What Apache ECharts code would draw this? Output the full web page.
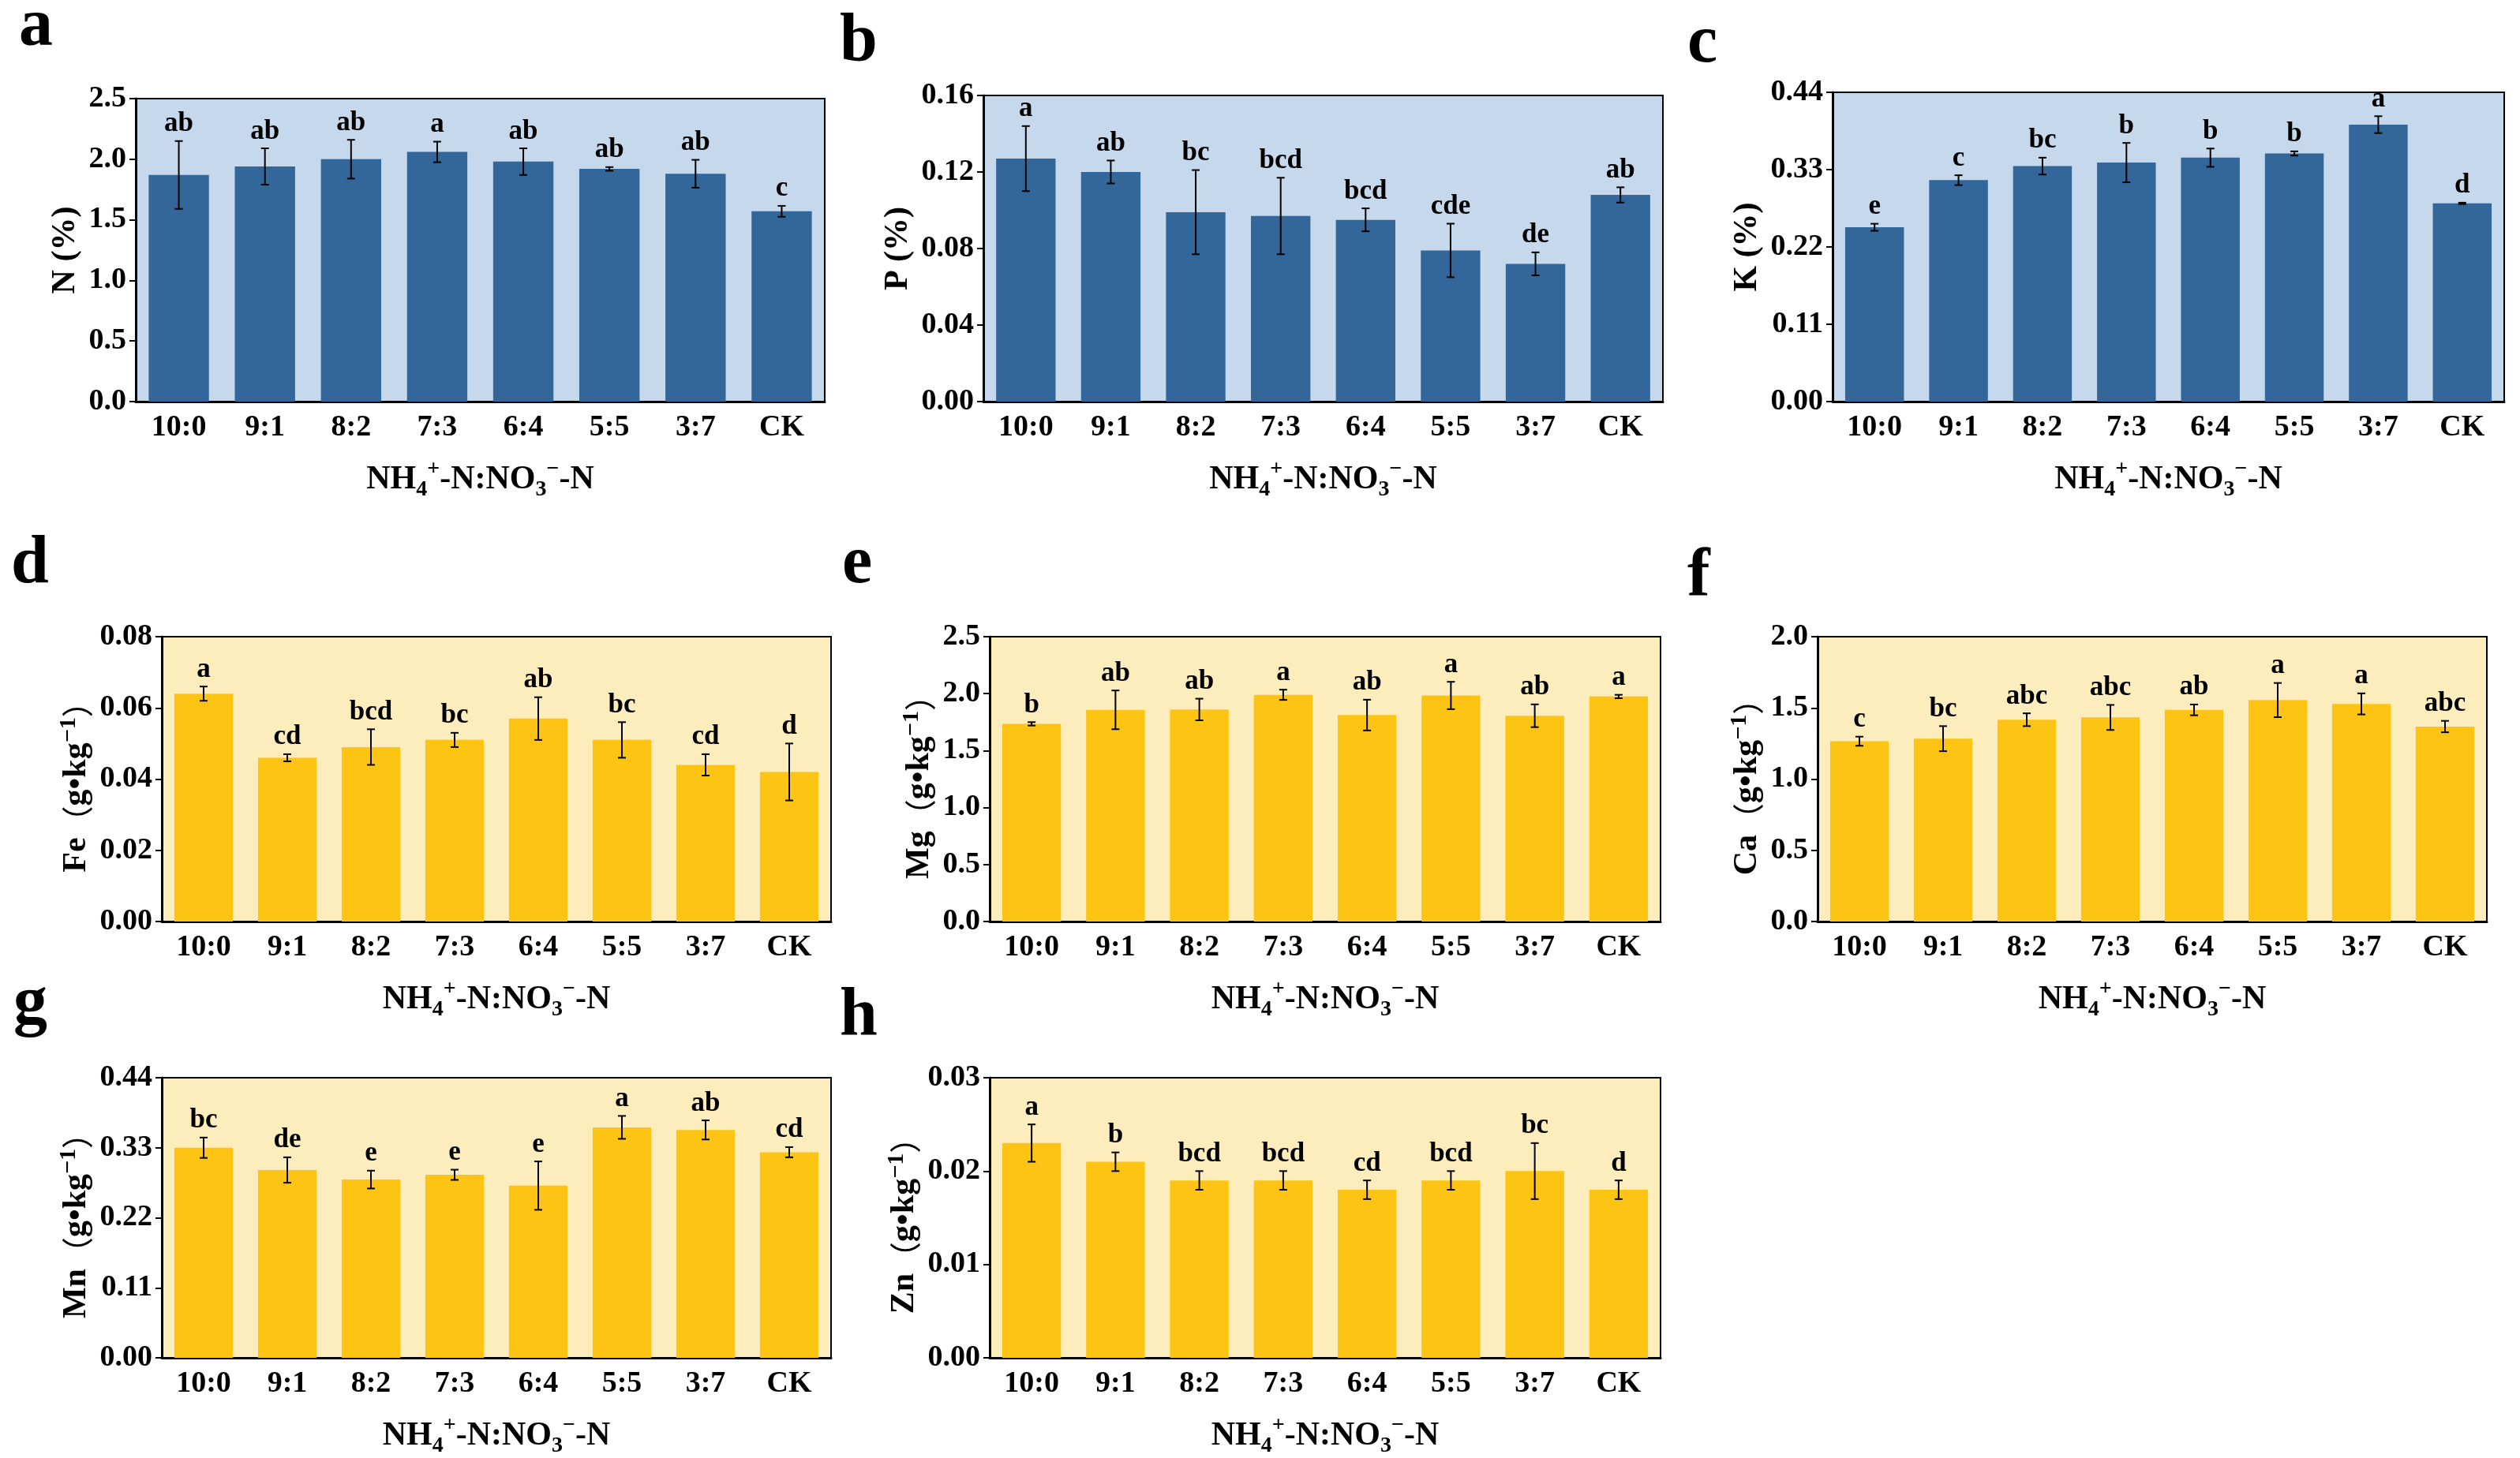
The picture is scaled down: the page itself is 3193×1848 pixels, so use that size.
<!DOCTYPE html>
<html>
<head>
<meta charset="utf-8">
<script src="https://cdn.jsdelivr.net/npm/echarts@6/dist/echarts.min.js"></script>
<style>
html,body{margin:0;padding:0;background:#fff;}
#chart{width:3193px;height:1848px;}
</style>
</head>
<body>
<div id="chart"></div>
<script>
const categories = ['10:0','9:1','8:2','7:3','6:4','5:5','3:7','CK'];

const nMean = [1.87,1.94,2.00,2.06,1.98,1.92,1.88,1.57];
const nErr = [0.28,0.15,0.16,0.085,0.11,0.015,0.115,0.045];
const nLetters = ['ab','ab','ab','a','ab','ab','ab','c'];

const pMean = [0.127,0.120,0.099,0.097,0.095,0.079,0.072,0.108];
const pErr = [0.017,0.006,0.022,0.020,0.006,0.014,0.006,0.004];
const pLetters = ['a','ab','bc','bcd','bcd','cde','de','ab'];

const kMean = [0.248,0.315,0.335,0.340,0.347,0.353,0.394,0.282];
const kErr = [0.005,0.007,0.012,0.028,0.013,0.003,0.012,0.001];
const kLetters = ['e','c','bc','b','b','b','a','d'];

const feMean = [0.064,0.046,0.049,0.051,0.057,0.051,0.044,0.042];
const feErr = [0.002,0.001,0.005,0.002,0.006,0.005,0.003,0.008];
const feLetters = ['a','cd','bcd','bc','ab','bc','cd','d'];

const mgMean = [1.735,1.858,1.861,1.990,1.812,1.984,1.806,1.975];
const mgErr = [0.015,0.17,0.095,0.045,0.135,0.12,0.10,0.015];
const mgLetters = ['b','ab','ab','a','ab','a','ab','a'];

const caMean = [1.266,1.284,1.417,1.433,1.486,1.555,1.528,1.369];
const caErr = [0.032,0.088,0.045,0.088,0.038,0.12,0.074,0.04];
const caLetters = ['c','bc','abc','abc','ab','a','a','abc'];

const mnMean = [0.330,0.295,0.280,0.2875,0.2705,0.362,0.358,0.323];
const mnErr = [0.016,0.020,0.014,0.008,0.038,0.018,0.015,0.008];
const mnLetters = ['bc','de','e','e','e','a','ab','cd'];

const znMean = [0.023,0.021,0.019,0.019,0.018,0.019,0.020,0.018];
const znErr = [0.002,0.001,0.001,0.001,0.001,0.001,0.003,0.001];
const znLetters = ['a','b','bcd','bcd','cd','bcd','bc','d'];

const xTitle = 'NH{sub|4}{sup|+}-N:NO{sub|3}{sup|−}-N';
const unitTitle = el => el + '{par|（}g•kg{sup|−1}{par|）}';

const SERIF = '"Liberation Serif","Times New Roman",serif';
const CJK = '"Noto Sans CJK SC","Noto Sans CJK JP",sans-serif';
const BLUE = '#336699', BLUE_BG = '#c5d8ec';
const YEL = '#fdc413', YEL_BG = '#feedbc';

const panels = [
  {letter:'a', lx:24, lb:58, mean:nMean, err:nErr, letters:nLetters, yName:'N (%)', min:0, max:2.5, interval:0.5, dec:1, color:BLUE, bg:BLUE_BG, left:172, right:1045, top:125, bottom:509, yGap:63},
  {letter:'b', lx:1064, lb:77, mean:pMean, err:pErr, letters:pLetters, yName:'P (%)', min:0, max:0.16, interval:0.04, dec:2, color:BLUE, bg:BLUE_BG, left:1246, right:2107, top:121, bottom:509, yGap:81},
  {letter:'c', lx:2138, lb:79, mean:kMean, err:kErr, letters:kLetters, yName:'K (%)', min:0, max:0.44, interval:0.11, dec:2, color:BLUE, bg:BLUE_BG, left:2322, right:3173, top:117, bottom:509, yGap:83},
  {letter:'d', lx:14, lb:739, mean:feMean, err:feErr, letters:feLetters, yName:unitTitle('Fe'), min:0, max:0.08, interval:0.02, dec:2, color:YEL, bg:YEL_BG, left:205, right:1053, top:807, bottom:1168, yGap:74},
  {letter:'e', lx:1067, lb:739, mean:mgMean, err:mgErr, letters:mgLetters, yName:unitTitle('Mg'), min:0, max:2.5, interval:0.5, dec:1, color:YEL, bg:YEL_BG, left:1254, right:2104, top:807, bottom:1168, yGap:55},
  {letter:'f', lx:2138, lb:756, mean:caMean, err:caErr, letters:caLetters, yName:unitTitle('Ca'), min:0, max:2.0, interval:0.5, dec:1, color:YEL, bg:YEL_BG, left:2303, right:3151, top:807, bottom:1168, yGap:57},
  {letter:'g', lx:17, lb:1297, mean:mnMean, err:mnErr, letters:mnLetters, yName:unitTitle('Mn'), min:0, max:0.44, interval:0.11, dec:2, color:YEL, bg:YEL_BG, left:205, right:1053, top:1366, bottom:1728, yGap:72},
  {letter:'h', lx:1064, lb:1312, mean:znMean, err:znErr, letters:znLetters, yName:unitTitle('Zn'), min:0, max:0.03, interval:0.01, dec:2, color:YEL, bg:YEL_BG, left:1254, right:2104, top:1366, bottom:1728, yGap:76}
];

const W = 3193, H = 1848;
const grid = [], xAxis = [], yAxis = [], series = [], graphic = [];

panels.forEach((p, i) => {
  grid.push({
    left: p.left, top: p.top, width: p.right - p.left, height: p.bottom - p.top,
    show: true, backgroundColor: p.bg, borderColor: '#000', borderWidth: 2, containLabel: false
  });
  xAxis.push({
    type: 'category', gridIndex: i, data: categories,
    axisLine: {show: true, lineStyle: {color: '#000', width: 3}},
    axisTick: {show: false},
    axisLabel: {color: '#000', fontFamily: SERIF, fontWeight: 'bold', fontSize: 38, margin: 14},
    name: xTitle, nameLocation: 'middle', nameGap: 72,
    nameTextStyle: {
      color: '#000', fontFamily: SERIF, fontWeight: 'bold', fontSize: 42, lineHeight: 54,
      rich: {
        sub: {fontFamily: SERIF, fontWeight: 'bold', fontSize: 28, verticalAlign: 'bottom', lineHeight: 54, color: '#000'},
        sup: {fontFamily: SERIF, fontWeight: 'bold', fontSize: 28, verticalAlign: 'top', lineHeight: 54, color: '#000'}
      }
    }
  });
  yAxis.push({
    type: 'value', gridIndex: i, min: p.min, max: p.max, interval: p.interval,
    splitLine: {show: false},
    axisLine: {show: true, lineStyle: {color: '#000', width: 3}},
    axisTick: {show: true, inside: false, length: 8, lineStyle: {color: '#000', width: 2}},
    axisLabel: {
      color: '#000', fontFamily: SERIF, fontWeight: 'bold', fontSize: 38, margin: 12,
      formatter: v => Number(v).toFixed(p.dec)
    },
    name: p.yName, nameLocation: 'middle', nameRotate: 90, nameGap: p.yGap,
    nameTextStyle: {
      color: '#000', fontFamily: SERIF, fontWeight: 'bold', fontSize: 42, lineHeight: 50,
      rich: {
        sup: {fontFamily: SERIF, fontWeight: 'bold', fontSize: 30, verticalAlign: 'top', lineHeight: 50, color: '#000'},
        par: {fontFamily: CJK, fontWeight: 'normal', fontSize: 40, lineHeight: 50, color: '#000'}
      }
    }
  });
  series.push({
    type: 'bar', xAxisIndex: i, yAxisIndex: i, data: p.mean, barWidth: '70%',
    itemStyle: {color: p.color}, silent: true, z: 2
  });
  const letters = p.letters;
  series.push({
    type: 'custom', xAxisIndex: i, yAxisIndex: i, z: 5, silent: true,
    data: p.mean.map((m, j) => [j, m, p.err[j]]),
    encode: {x: 0, y: 1},
    renderItem: (params, api) => {
      const x = api.value(0), m = api.value(1), e = api.value(2);
      const t = api.coord([x, m + e]);
      const b = api.coord([x, m - e]);
      const cw = 5;
      const ls = {stroke: '#000', lineWidth: 2};
      return {
        type: 'group',
        children: [
          {type: 'line', shape: {x1: t[0], y1: t[1], x2: b[0], y2: b[1]}, style: ls},
          {type: 'line', shape: {x1: t[0] - cw, y1: t[1], x2: t[0] + cw, y2: t[1]}, style: ls},
          {type: 'line', shape: {x1: b[0] - cw, y1: b[1], x2: b[0] + cw, y2: b[1]}, style: ls},
          {type: 'text', style: {
            x: t[0], y: t[1] - 4, text: letters[params.dataIndex],
            textAlign: 'center', textVerticalAlign: 'bottom',
            font: 'bold 35px ' + SERIF, fill: '#000'
          }}
        ]
      };
    }
  });
  graphic.push({
    type: 'text', left: p.lx, top: p.lb - 66,
    style: {text: p.letter, font: 'bold 86px ' + SERIF, fill: '#000'}
  });
});

const chart = echarts.init(document.getElementById('chart'), null, {width: W, height: H, renderer: 'canvas'});
chart.setOption({
  backgroundColor: '#fff',
  animation: false,
  grid, xAxis, yAxis, series, graphic
});
</script>
</body>
</html>
